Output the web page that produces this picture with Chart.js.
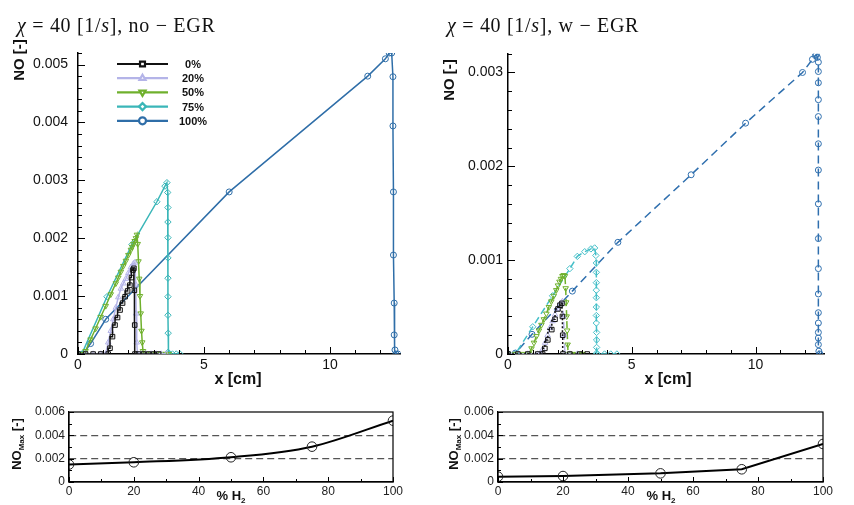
<!DOCTYPE html>
<html>
<head>
<meta charset="utf-8">
<title>NO profiles</title>
<script src="https://cdn.jsdelivr.net/npm/chart.js@4.4.1/dist/chart.umd.min.js"></script>
<style>
  html, body { margin: 0; padding: 0; background: #fff; }
  #page { position: relative; width: 854px; height: 505px; overflow: hidden; font-family: "Liberation Sans", Arial, sans-serif; color: #111; }
  canvas { position: absolute; left: 0; top: 0; }
  .t { position: absolute; white-space: nowrap; line-height: 1; }
  .title { font-family: "Liberation Serif", "DejaVu Serif", serif; font-size: 20px; letter-spacing: 0.7px; }
  .xl { font-weight: bold; font-size: 16px; transform: translate(-50%, -50%); }
  .yl { font-weight: bold; font-size: 15px; transform: translate(-50%, -50%) rotate(-90deg); }
  .hl { font-weight: bold; font-size: 13px; transform: translate(-50%, -50%); }
  .ml { font-weight: bold; font-size: 13px; transform: translate(-50%, -50%) rotate(-90deg); }
  sub { font-size: 8px; vertical-align: -3px; }
</style>
</head>
<body>
<div id="page">
  <canvas id="noEgr" width="854" height="505"></canvas>
  <canvas id="wEgr" width="854" height="505"></canvas>
  <canvas id="maxNoEgr" width="854" height="505"></canvas>
  <canvas id="maxWEgr" width="854" height="505"></canvas>

  <div class="t title" style="left:17px; top:15px;"><i>χ</i> = 40 [1/<i>s</i>], no − EGR</div>
  <div class="t title" style="left:447px; top:15px;"><i>χ</i> = 40 [1/<i>s</i>], w − EGR</div>
  <div class="t xl" style="left:238px; top:379px;">x [cm]</div>
  <div class="t xl" style="left:668px; top:379px;">x [cm]</div>
  <div class="t yl" style="left:18px; top:60px;">NO [-]</div>
  <div class="t yl" style="left:448px; top:80px;">NO [-]</div>
  <div class="t hl" style="left:231px; top:497px;">% H<sub>2</sub></div>
  <div class="t hl" style="left:661px; top:497px;">% H<sub>2</sub></div>
  <div class="t ml" style="left:18px; top:444px;">NO<sub>Max</sub> [-]</div>
  <div class="t ml" style="left:455px; top:444px;">NO<sub>Max</sub> [-]</div>
</div>

<script>
// hydrogen share of the fuel, one curve per level
const h2Pct = [0, 20, 50, 75, 100];

// ---- chi = 40, no EGR : NO along x [cm] ----
const noEgrX0 = [0, 0.3, 0.6, 0.9, 1.2, 1.27, 1.37, 1.47, 1.57, 1.67, 1.77, 1.87, 1.97, 2.06, 2.12, 2.18, 2.22, 2.24, 2.25, 2.26, 2.4, 2.6, 2.8, 3.0, 3.2];
const noEgrY0 = [0, 0, 0, 0, 0, 0.0001, 0.0003, 0.0005, 0.00063, 0.00076, 0.00088, 0.00099, 0.00109, 0.00119, 0.00132, 0.00145, 0.00148, 0.0011, 0.0005, 0, 0, 0, 0, 0, 0];
const noEgrX1 = [0, 0.3, 0.6, 0.9, 1.1, 1.2, 1.3, 1.4, 1.5, 1.6, 1.7, 1.8, 1.9, 2.0, 2.1, 2.2, 2.26, 2.29, 2.31, 2.33, 2.36, 2.5, 2.7, 2.9, 3.1, 3.3, 3.5];
const noEgrY1 = [0, 0, 0, 0, 0, 0.0002, 0.0004, 0.0006, 0.0008, 0.00098, 0.00113, 0.00122, 0.0013, 0.0014, 0.0015, 0.00156, 0.00158, 0.0012, 0.0007, 0.0002, 0, 0, 0, 0, 0, 0, 0];
const noEgrX2 = [0, 0.1, 0.2, 0.3, 0.5, 0.7, 0.9, 1.1, 1.3, 1.5, 1.6, 1.7, 1.8, 1.9, 2.0, 2.1, 2.15, 2.2, 2.25, 2.3, 2.34, 2.37, 2.4, 2.43, 2.46, 2.49, 2.52, 2.55, 2.58, 2.62, 2.7, 2.8, 2.9, 3.0, 3.1, 3.2, 3.3, 3.4, 3.5, 3.6];
const noEgrY2 = [0, 0, 0, 0.00005, 0.00025, 0.00044, 0.00064, 0.00083, 0.00103, 0.00122, 0.00132, 0.00142, 0.00152, 0.00161, 0.00171, 0.0018, 0.00185, 0.0019, 0.00195, 0.002, 0.00206, 0.0019, 0.0016, 0.0013, 0.001, 0.0007, 0.0004, 0.0002, 0.00005, 0, 0, 0, 0, 0, 0, 0, 0, 0, 0, 0];
const noEgrX3 = [0, 0.15, 1.15, 2.14, 3.13, 3.45, 3.53, 3.56, 3.57, 3.57, 3.57, 3.57, 3.57, 3.57, 3.57, 3.58, 3.58, 3.6, 3.75, 3.9, 4.05];
const noEgrY3 = [0, 0, 0.00099, 0.00189, 0.00263, 0.0029, 0.00296, 0.00279, 0.00253, 0.00228, 0.00201, 0.00166, 0.00131, 0.00099, 0.00067, 0.00036, 0.00003, 0, 0, 0, 0];
const noEgrX4 = [0, 0.2, 0.5, 1.1, 6.0, 11.5, 12.2, 12.35, 12.45, 12.5, 12.5, 12.52, 12.52, 12.55, 12.55, 12.58, 12.62, 12.7];
const noEgrY4 = [0, 0, 0.00018, 0.0006, 0.0028, 0.0048, 0.0051, 0.0052, 0.0052, 0.00479, 0.00394, 0.0028, 0.00171, 0.00088, 0.00033, 0.00007, 0, 0];

// ---- chi = 40, with EGR ----
const egrX0 = [0, 0.4, 0.8, 1.2, 1.4, 1.49, 1.61, 1.77, 1.9, 2.02, 2.1, 2.18, 2.2, 2.21, 2.22, 2.5, 2.9, 3.2];
const egrY0 = [0, 0, 0, 0, 0, 0.00006, 0.00015, 0.00026, 0.00037, 0.00048, 0.00052, 0.00054, 0.0004, 0.0002, 0, 0, 0, 0];
const egrX1 = [0, 0.4, 0.8, 1.2, 1.3, 1.4, 1.5, 1.6, 1.7, 1.8, 1.9, 2.0, 2.1, 2.2, 2.24, 2.27, 2.3, 2.5, 2.8];
const egrY1 = [0, 0, 0, 0, 0, 0.00005, 0.00012, 0.0002, 0.00028, 0.00035, 0.00042, 0.00048, 0.00053, 0.00056, 0.0004, 0.0002, 0, 0, 0];
const egrX2 = [0, 0.3, 0.6, 0.85, 0.95, 1.05, 1.15, 1.25, 1.35, 1.45, 1.55, 1.65, 1.75, 1.85, 1.95, 2.02, 2.08, 2.14, 2.2, 2.25, 2.3, 2.33, 2.35, 2.37, 2.39, 2.41, 2.43, 2.5, 2.6, 2.8, 3.0];
const egrY2 = [0, 0, 0, 0, 0.00006, 0.00012, 0.00019, 0.00025, 0.00031, 0.00037, 0.00043, 0.0005, 0.00056, 0.00062, 0.00068, 0.00073, 0.00077, 0.0008, 0.00083, 0.00084, 0.00083, 0.0007, 0.00055, 0.0004, 0.00025, 0.0001, 0, 0, 0, 0, 0];
const egrX3 = [0, 0.3, 1.0, 1.8, 2.5, 2.8, 3.1, 3.35, 3.5, 3.55, 3.57, 3.57, 3.57, 3.57, 3.57, 3.57, 3.57, 3.57, 3.58, 3.58, 3.58, 3.58, 3.6, 3.9, 4.15, 4.4];
const egrY3 = [0, 0, 0.00029, 0.00062, 0.00091, 0.00104, 0.00109, 0.00112, 0.00113, 0.00105, 0.00097, 0.00087, 0.00076, 0.00068, 0.0006, 0.0005, 0.00041, 0.00033, 0.00023, 0.00015, 0.00007, 0.00001, 0, 0, 0, 0];
const egrX4 = [0, 0.3, 0.97, 2.6, 4.44, 7.4, 9.6, 11.9, 12.3, 12.42, 12.46, 12.5, 12.54, 12.54, 12.54, 12.54, 12.54, 12.54, 12.54, 12.54, 12.54, 12.54, 12.54, 12.54, 12.54, 12.54, 12.54, 12.54, 12.56, 12.6];
const egrY4 = [0, 0.00001, 0.00021, 0.00067, 0.00119, 0.00191, 0.00246, 0.003, 0.00314, 0.00318, 0.00319, 0.00316, 0.00311, 0.00301, 0.00289, 0.00271, 0.00253, 0.00224, 0.00196, 0.0016, 0.00123, 0.00091, 0.00064, 0.00044, 0.00033, 0.00023, 0.00017, 0.0001, 0.00003, 0];

// ---- peak NO vs % H2 ----
const noMaxNoEgr = [0.0015, 0.00169, 0.00212, 0.00303, 0.00526];
const noMaxWEgr = [0.00046, 0.00051, 0.00074, 0.00109, 0.00326];

const FONT = "'Liberation Sans', Arial, sans-serif";

// inward tick marks (tecplot style) + optional frame
const ticksIn = {
  id: 'ticksIn',
  afterDraw(chart, args, o) {
    const { ctx, chartArea: a, scales } = chart;
    const marks = (s, step) => {
      const out = [];
      const n = Math.floor((s.max - s.min) / step + 1e-6);
      for (let i = 0; i <= n; i++) out.push(s.min + i * step);
      return out;
    };
    ctx.save();
    ctx.strokeStyle = '#000';
    ctx.lineWidth = 1;
    ctx.beginPath();
    const sx = scales.x, sy = scales.y;
    [[o.xMinor, o.minorLen], [o.xMajor, o.majorLen]].forEach(([step, len]) => {
      marks(sx, step).forEach(v => {
        const p = Math.round(sx.getPixelForValue(v)) + 0.5;
        ctx.moveTo(p, a.bottom); ctx.lineTo(p, a.bottom - len);
      });
    });
    [[o.yMinor, o.minorLen], [o.yMajor, o.majorLen]].forEach(([step, len]) => {
      marks(sy, step).forEach(v => {
        const p = Math.round(sy.getPixelForValue(v)) + 0.5;
        ctx.moveTo(a.left, p); ctx.lineTo(a.left + len, p);
      });
    });
    ctx.stroke();
    if (o.frame) {
      ctx.lineWidth = 1.2;
      ctx.strokeRect(a.left, a.top, a.right - a.left, a.bottom - a.top);
    }
    ctx.restore();
  }
};

// small legend box inside the first chart
const legendBox = {
  id: 'legendBox',
  afterDraw(chart, args, o) {
    if (!o.show) return;
    const ctx = chart.ctx;
    ctx.save();
    chart.data.datasets.forEach((ds, i) => {
      const y = o.y + i * o.row;
      ctx.strokeStyle = ds.borderColor;
      ctx.lineWidth = 2.2;
      ctx.setLineDash([]);
      ctx.beginPath(); ctx.moveTo(o.x1, y); ctx.lineTo(o.x2, y); ctx.stroke();
      ctx.fillStyle = '#fff';
      Chart.helpers.drawPoint(ctx, { pointStyle: ds.pointStyle, rotation: ds.pointRotation || 0, radius: 3.5, borderWidth: 1.2 }, (o.x1 + o.x2) / 2, y);
      ctx.fillStyle = '#111';
      ctx.font = 'bold 11px ' + FONT;
      ctx.textAlign = 'center';
      ctx.textBaseline = 'middle';
      ctx.fillText(ds.label, o.tx, y + 1);
    });
    ctx.restore();
  }
};

function pts(xs, ys) {
  return xs.map((x, i) => ({ x: x, y: ys[i] }));
}

function series(i, xs, ys, color, dash) {
  const styles = ['rect', 'triangle', 'triangle', 'rectRot', 'circle'];
  const ds = {
    label: h2Pct[i] + '%',
    data: pts(xs, ys),
    borderColor: color,
    borderWidth: 1.5,
    borderDash: dash,
    pointStyle: styles[i],
    pointRotation: i === 2 ? 180 : 0,
    pointRadius: i === 4 ? 3 : 3.2,
    pointBorderWidth: 1,
    pointBorderColor: color,
    pointBackgroundColor: 'rgba(255,255,255,0)',
    fill: false,
    tension: 0
  };
  if (i === 0) ds.stepped = 'after';
  return ds;
}

// area = [left, top, right, bottom] of the plot box; the axes get a fixed
// band outside it so the tick labels are not clipped
function boxPadding(area, yBand, xBand) {
  return { left: area[0] - yBand, top: area[1], right: 854 - area[2], bottom: 505 - area[3] - xBand };
}

function profileChart(id, datasets, area, ymax, yPad, legend) {
  return new Chart(document.getElementById(id), {
    type: 'line',
    data: { datasets: datasets },
    options: {
      responsive: false,
      animation: false,
      layout: { padding: boxPadding(area, 70, 22) },
      plugins: {
        legend: { display: false },
        tooltip: { enabled: false },
        ticksIn: { xMajor: 5, xMinor: 1, yMajor: 0.001, yMinor: 0.0002, majorLen: 7, minorLen: 4 },
        legendBox: legend
      },
      scales: {
        x: {
          type: 'linear', min: 0, max: 12.8,
          afterFit: s => { s.height = 22; },
          ticks: { stepSize: 5, includeBounds: false, padding: 3, autoSkip: false, maxRotation: 0, color: '#111', font: { family: FONT, size: 14 } },
          grid: { display: false, drawTicks: false },
          border: { color: '#000', width: 1.5 }
        },
        y: {
          type: 'linear', min: 0, max: ymax,
          afterFit: s => { s.width = 70; },
          ticks: {
            stepSize: 0.001, includeBounds: false, padding: yPad, color: '#111', font: { family: FONT, size: 14 },
            callback: v => (Math.abs(v) < 1e-9 ? '0' : v.toFixed(3))
          },
          grid: { display: false, drawTicks: false },
          border: { color: '#000', width: 1.5 }
        }
      }
    },
    plugins: [ticksIn, legendBox]
  });
}

function peakChart(id, values, area, curved) {
  return new Chart(document.getElementById(id), {
    type: 'line',
    data: {
      datasets: [{
        data: pts(h2Pct, values),
        borderColor: '#000',
        borderWidth: 2,
        pointStyle: 'circle',
        pointRadius: 4.8,
        pointBorderWidth: 1,
        pointBorderColor: '#222',
        pointBackgroundColor: 'rgba(255,255,255,0)',
        cubicInterpolationMode: curved ? 'monotone' : 'default',
        tension: 0,
        fill: false
      }]
    },
    options: {
      responsive: false,
      animation: false,
      layout: { padding: boxPadding(area, 50, 18) },
      plugins: {
        legend: { display: false },
        tooltip: { enabled: false },
        ticksIn: { xMajor: 20, xMinor: 10, yMajor: 0.002, yMinor: 0.001, majorLen: 5, minorLen: 3, frame: true },
        legendBox: { show: false }
      },
      scales: {
        x: {
          type: 'linear', min: 0, max: 100,
          afterFit: s => { s.height = 18; },
          ticks: { stepSize: 20, padding: 2, autoSkip: false, maxRotation: 0, color: '#222', font: { family: FONT, size: 12 } },
          grid: { display: false, drawTicks: false },
          border: { color: '#000', width: 1.2 }
        },
        y: {
          type: 'linear', min: 0, max: 0.006,
          afterFit: s => { s.width = 50; },
          ticks: {
            stepSize: 0.002, padding: 4, color: '#222', font: { family: FONT, size: 12 },
            callback: v => (Math.abs(v) < 1e-9 ? '0' : v.toFixed(3))
          },
          grid: {
            drawTicks: false,
            lineWidth: 1.2,
            color: c => {
              const v = c.tick ? c.tick.value : 0;
              return (Math.abs(v - 0.002) < 1e-9 || Math.abs(v - 0.004) < 1e-9) ? '#555' : 'rgba(0,0,0,0)';
            }
          },
          border: { color: '#000', width: 1.2, dash: [7, 4] }
        }
      }
    },
    plugins: [ticksIn]
  });
}

const noEgrColors = ['#111111', '#b4b4e8', '#6fb02c', '#3ab6b8', '#2f6ea8'];
const egrColors = ['#111111', '#b4b4e8', '#6fb02c', '#45bfc8', '#2f6fae'];

profileChart('noEgr', [
  series(0, noEgrX0, noEgrY0, noEgrColors[0], []),
  series(1, noEgrX1, noEgrY1, noEgrColors[1], []),
  series(2, noEgrX2, noEgrY2, noEgrColors[2], []),
  series(3, noEgrX3, noEgrY3, noEgrColors[3], []),
  series(4, noEgrX4, noEgrY4, noEgrColors[4], [])
], [78, 53, 400.5, 354], 0.0052, 10, { show: true, x1: 117, x2: 168, tx: 193, y: 64, row: 14.2 });

profileChart('wEgr', [
  series(0, egrX0, egrY0, egrColors[0], [2, 2]),
  series(1, egrX1, egrY1, egrColors[1], [7, 4]),
  series(2, egrX2, egrY2, egrColors[2], [7, 4]),
  series(3, egrX3, egrY3, egrColors[3], [7, 4]),
  series(4, egrX4, egrY4, egrColors[4], [8, 5])
], [508, 53.7, 824.8, 354], 0.0032, 5, { show: false });

peakChart('maxNoEgr', noMaxNoEgr, [69, 412, 393, 482], true);
peakChart('maxWEgr', noMaxWEgr, [498, 412, 823, 482], false);
</script>
</body>
</html>
